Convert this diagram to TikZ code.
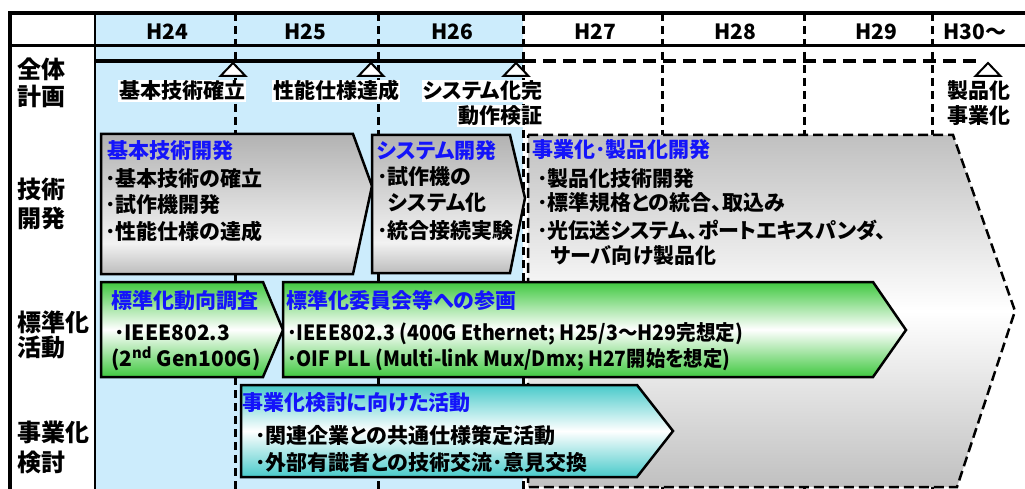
\documentclass[tikz,border=0pt]{standalone}
\usepackage{fontspec}
\setmainfont{Noto Sans CJK JP}[RawFeature=+palt]
\definecolor{bluebg}{RGB}{204,236,252}
\definecolor{ttlblue}{RGB}{20,20,250}
\definecolor{grn}{RGB}{64,200,64}
\definecolor{cyn}{RGB}{72,202,202}
\definecolor{gryBig}{RGB}{192,192,192}
\definecolor{gryT}{RGB}{178,178,178}
\definecolor{gryW}{RGB}{242,242,242}
\definecolor{gryA}{RGB}{188,188,188}
\pgfdeclareverticalshading{grayarr}{100bp}{color(0bp)=(gryA); color(25bp)=(gryA); color(36bp)=(gryW); color(75bp)=(gryT); color(100bp)=(gryT)}
\begin{document}
\begin{tikzpicture}[x=1pt,y=-1pt,
  every node/.style={inner sep=0pt, outer sep=0pt},
  lbl/.style={anchor=base west, font=\bfseries\fontsize{24}{28}\selectfont},
  yr/.style={anchor=base, font=\bfseries\fontsize{21}{24}\selectfont},
  ms/.style={anchor=base, fill=white, inner sep=1pt, font=\bfseries\fontsize{21}{25}\selectfont},
  ttl/.style={anchor=base west, text=ttlblue, font=\bfseries\fontsize{21}{25}\selectfont},
  body/.style={anchor=base west, font=\bfseries\fontsize{21}{25}\selectfont},
  divider/.style={line width=3pt, dash pattern=on 8pt off 5pt},
  boxline/.style={line width=2.5pt, line join=miter},
  graybox/.style={boxline, shade, shading=grayarr},
  greenbox/.style={boxline, top color=grn, bottom color=grn, middle color=white},
  cyanbox/.style={boxline, top color=cyn, bottom color=cyn, middle color=white},
  bigbox/.style={line width=2.5pt, dash pattern=on 10pt off 5pt, top color=gryBig, bottom color=gryBig, middle color=white},
  milestone/.style={line width=2pt, fill=white, line join=miter}
]
\useasboundingbox (0,0) rectangle (1025,489);
% blue background (H24-H26)
\fill[bluebg] (96,13) rectangle (523,489);
% year dividers
\foreach \x in {235,378,523,662,804,932} \draw[divider] (\x,13) -- (\x,489);
% frame
\draw[line width=4pt] (10,489) -- (10,13) -- (1025,13);
\draw[line width=3pt] (10,46) -- (1025,46);
\draw[line width=2.5pt] (95,13) -- (95,489);
% header years
\node[yr] (y24) at (167,40) {H24};
\node[yr] (y25) at (305,40) {H25};
\node[yr] (y26) at (452,40) {H26};
\node[yr] (y27) at (595,40) {H27};
\node[yr] (y28) at (735,40) {H28};
\node[yr] (y29) at (876,40) {H29};
\node[yr] (y30) at (975,40) {H30～};
% left column labels
\node[lbl] (L1a) at (17,79) {全体};
\node[lbl] (L1b) at (17,105.5) {計画};
\node[lbl] (L2a) at (17,199) {技術};
\node[lbl] (L2b) at (17,227) {開発};
\node[lbl] (L3a) at (17,331) {標準化};
\node[lbl] (L3b) at (17,356) {活動};
\node[lbl] (L4a) at (17,441.5) {事業化};
\node[lbl] (L4b) at (17,471) {検討};
% overall timeline
\draw[line width=3.5pt] (96,61) -- (523,61);
\draw[line width=3.5pt, dash pattern=on 13pt off 7pt] (523,61) -- (980,61);
\foreach \x in {233,371,516,988} \draw[milestone] (\x,63) -- (\x+12.5,76) -- (\x-12.5,76) -- cycle;
\node[ms] (m1) at (182,99) {基本技術確立};
\node[ms] (m2) at (336,99) {性能仕様達成};
\node[ms, anchor=base east] (m3a) at (543,99) {システム化完};
\node[ms, anchor=base east] (m3b) at (543,124) {動作検証};
\node[ms, fill=none] (m4a) at (979,99) {製品化};
\node[ms, fill=none] (m4b) at (979,124) {事業化};
% big gray (business development)
\draw[bigbox] (528,135) -- (953,135) -- (1015,311) -- (957,487) -- (528,487) -- cycle;
% gray arrows
\draw[graybox] (101,134) -- (353,134) -- (372,186) -- (353,274) -- (101,274) -- cycle;
\draw[graybox] (372,135) -- (510,135) -- (525,198) -- (510,273) -- (372,273) -- cycle;
% green arrows
\draw[greenbox] (101,282) -- (263,282) -- (283,330) -- (263,377) -- (101,377) -- cycle;
\draw[greenbox] (283,282) -- (873,282) -- (906,330) -- (873,377) -- (283,377) -- cycle;
% cyan arrow
\draw[cyanbox] (241,385) -- (637,385) -- (673,431) -- (637,477) -- (241,477) -- cycle;
% texts: tech development
\node[ttl] (t1) at (107,159) {基本技術開発};
\node[body] (t1a) at (105,186) {･基本技術の確立};
\node[body] (t1b) at (105,213) {･試作機開発};
\node[body] (t1c) at (105,239) {･性能仕様の達成};
\node[ttl] (t2) at (377,159) {システム開発};
\node[body] (t2a) at (377,185) {･試作機の};
\node[body] (t2b) at (388,211) {システム化};
\node[body] (t2c) at (377,238) {･統合接続実験};
\node[ttl] (t3) at (532,158) {事業化･製品化開発};
\node[body] (t3a) at (537,186) {･製品化技術開発};
\node[body] (t3b) at (537,211) {･標準規格との統合、取込み};
\node[body] (t3c) at (537,238) {･光伝送システム、ポートエキスパンダ、};
\node[body] (t3d) at (551,263) {サーバ向け製品化};
% standardization
\node[ttl] (g1) at (111,308) {標準化動向調査};
\node[body] (g1a) at (114,340) {･IEEE802.3};
\node[body] (g1b) at (111,366) {(2\textsuperscript{nd} Gen100G)};
\node[ttl] (g2) at (286,308) {標準化委員会等への参画};
\node[body] (g2a) at (287,340) {\scalebox{0.93}[1]{･IEEE802.3 (400G Ethernet; H25/3～H29完想定)}};
\node[body] (g2b) at (287,366) {\scalebox{0.92}[1]{･OIF PLL (Multi-link Mux/Dmx; H27開始を想定)}};
% business study
\node[ttl] (c1) at (242,410) {事業化検討に向けた活動};
\node[body] (c1a) at (255,443) {･関連企業との共通仕様策定活動};
\node[body] (c1b) at (255,470) {･外部有識者との技術交流･意見交換};
\end{tikzpicture}
\end{document}
